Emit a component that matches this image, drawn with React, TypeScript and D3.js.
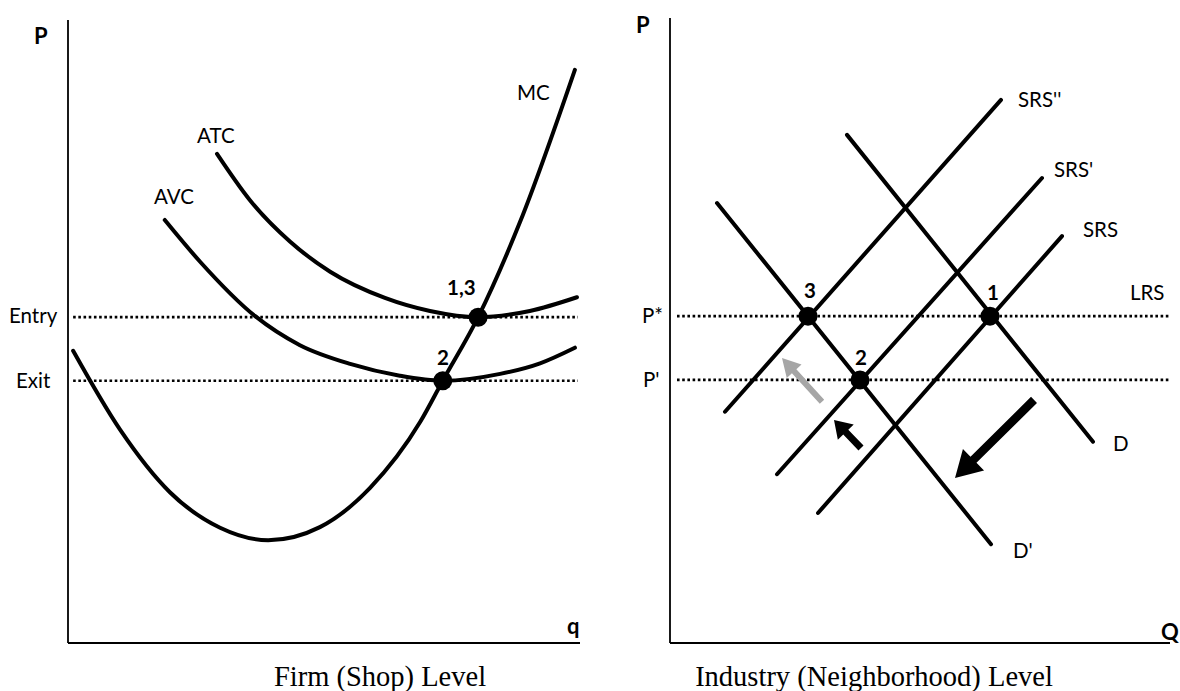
import React from "react";
import * as d3 from "d3";

// ---------- Left panel (firm) data, q and P in 0..100 units ----------
const MC_Q = [1, 10.2, 19.9, 29.7, 39.1, 49.2, 59, 68.8, 73.2, 80.1, 88.3, 99];
const MC_P = [46.9, 34.2, 24.2, 18.5, 16.5, 18.6, 24.9, 35.5, 42.1, 52.3, 67.6, 92];
const AVC_Q = [18.9, 25.8, 36.5, 45.3, 55.1, 64.8, 73.2, 84.4, 92.2, 99];
const AVC_P = [67.9, 61.2, 52.5, 47.8, 44.8, 42.9, 42.1, 43.2, 44.9, 47.4];
const ATC_Q = [29.1, 35.5, 43.4, 51.2, 61.9, 70.7, 80.1, 90.2, 99.4];
const ATC_P = [78.5, 71.1, 64.4, 59.6, 55.4, 53.3, 52.3, 53.3, 55.5];
const ENTRY_P = 52.3;
const EXIT_P = 42.1;
const FIRM_POINT_Q = [80.1, 73.2];
const FIRM_POINT_P = [52.3, 42.1];
const FIRM_POINT_LABELS = ["1,3", "2"];
const FIRM_CURVE_LABELS = ["MC", "ATC", "AVC"];

// ---------- Right panel (industry) data ----------
const IND_LINE_NAMES = ["D", "D'", "SRS''", "SRS'", "SRS"];
const IND_X1 = [35.4, 9.4, 11, 21.4, 29.6];
const IND_Y1 = [81.3, 70.4, 37, 27, 20.8];
const IND_X2 = [84.6, 64.2, 66.2, 74.4, 78.4];
const IND_Y2 = [32.2, 15.8, 86.9, 74.4, 65.1];
const P_STAR = 52.3;
const P_PRIME = 42.1;
const IND_POINT_Q = [64, 38, 27.6];
const IND_POINT_P = [52.3, 42.1, 52.3];
const IND_POINT_LABELS = ["1", "2", "3"];
// arrows: tail -> tip
const ARROW_X1 = [30.4, 38.2, 72.8];
const ARROW_Y1 = [38.6, 31.2, 38.9];
const ARROW_X2 = [22.4, 32.8, 57];
const ARROW_Y2 = [45.6, 35.7, 26.4];

const SANS = "Lato, 'Open Sans', sans-serif";
const SERIF = "'Liberation Serif', 'DejaVu Serif', serif";

function arrowPoints(x1: number, y1: number, x2: number, y2: number, sw: number, hl: number, hw: number) {
  const dx = x2 - x1, dy = y2 - y1;
  const len = Math.hypot(dx, dy);
  const ux = dx / len, uy = dy / len;
  const nx = -uy, ny = ux;
  const bx = x2 - ux * hl, by = y2 - uy * hl;
  const pts = [
    [x1 + nx * sw / 2, y1 + ny * sw / 2],
    [bx + nx * sw / 2, by + ny * sw / 2],
    [bx + nx * hw, by + ny * hw],
    [x2, y2],
    [bx - nx * hw, by - ny * hw],
    [bx - nx * sw / 2, by - ny * sw / 2],
    [x1 - nx * sw / 2, y1 - ny * sw / 2],
  ];
  return pts.map((p) => p.join(",")).join(" ");
}

export default function App() {
  // left scales
  const xL = d3.scaleLinear().domain([0, 100]).range([68, 580]);
  const yL = d3.scaleLinear().domain([0, 100]).range([643, 20]);
  // right scales
  const xR = d3.scaleLinear().domain([0, 100]).range([670, 1170]);
  const yR = d3.scaleLinear().domain([0, 100]).range([643, 18]);

  const lineL = d3
    .line<[number, number]>()
    .x((d) => xL(d[0]))
    .y((d) => yL(d[1]))
    .curve(d3.curveMonotoneX);

  const curves = [
    MC_Q.map((q, i) => [q, MC_P[i]] as [number, number]),
    ATC_Q.map((q, i) => [q, ATC_P[i]] as [number, number]),
    AVC_Q.map((q, i) => [q, AVC_P[i]] as [number, number]),
  ];

  const curveLabelPos = [
    [517, 100],
    [197, 143],
    [154, 204],
  ];
  const firmPtLabelPos = [
    [447, 295],
    [437, 365],
  ];
  const indLabelPos = [
    [1113, 451],
    [1013, 558],
    [1018, 107],
    [1054, 177],
    [1083, 237],
  ];
  const indPtLabelPos = [
    [987, 300],
    [855, 365],
    [804, 298],
  ];
  const arrowStyle = [
    { fill: "#a6a6a6", sw: 6, hl: 18, hw: 10 },
    { fill: "#000", sw: 7, hl: 17, hw: 11 },
    { fill: "#000", sw: 8.5, hl: 26, hw: 15 },
  ];

  const dotted = { stroke: "#000", strokeWidth: 2.6, strokeDasharray: "2.6 2.6" };
  const thick = { stroke: "#000", strokeWidth: 4, fill: "none", strokeLinecap: "round" as const };

  return (
    <svg
      width={1180}
      height={691}
      style={{ position: "fixed", left: 0, top: 0, background: "#fff" }}
    >
      <rect width={1180} height={691} fill="#fff" />
      {/* ---------------- Left panel ---------------- */}
      <line x1={xL(0)} y1={yL(0)} x2={xL(0)} y2={yL(100)} stroke="#000" strokeWidth={1.8} />
      <line x1={xL(0)} y1={yL(0)} x2={xL(100)} y2={yL(0)} stroke="#000" strokeWidth={1.8} />
      <line x1={xL(1)} x2={xL(99.6)} y1={yL(ENTRY_P)} y2={yL(ENTRY_P)} {...dotted} />
      <line x1={xL(1)} x2={xL(99.6)} y1={yL(EXIT_P)} y2={yL(EXIT_P)} {...dotted} />
      {curves.map((c, i) => (
        <path key={i} d={lineL(c) || ""} {...thick} />
      ))}
      {FIRM_POINT_Q.map((q, i) => (
        <circle key={i} cx={xL(q)} cy={yL(FIRM_POINT_P[i])} r={9.5} fill="#000" />
      ))}
      <g fontFamily={SANS} fontSize={20.5} fill="#000">
        {FIRM_CURVE_LABELS.map((t, i) => (
          <text key={t} x={curveLabelPos[i][0]} y={curveLabelPos[i][1]}>
            {t}
          </text>
        ))}
        <text x={9} y={323}>Entry</text>
        <text x={16} y={388}>Exit</text>
      </g>
      <g fontFamily={SANS} fontSize={20.5} fontWeight="bold" fill="#000">
        {FIRM_POINT_LABELS.map((t, i) => (
          <text key={t} x={firmPtLabelPos[i][0]} y={firmPtLabelPos[i][1]}>
            {t}
          </text>
        ))}
      </g>
      <g fontFamily={SANS} fontSize={22} fontWeight="bold" fill="#000">
        <text x={34} y={44}>P</text>
        <text x={567} y={634}>q</text>
      </g>
      <text x={380} y={686} textAnchor="middle" fontFamily={SERIF} fontSize={28.5}>
        Firm (Shop) Level
      </text>

      {/* ---------------- Right panel ---------------- */}
      <line x1={xR(0)} y1={yR(0)} x2={xR(0)} y2={yR(100)} stroke="#000" strokeWidth={1.8} />
      <line x1={xR(0)} y1={yR(0)} x2={xR(100)} y2={yR(0)} stroke="#000" strokeWidth={1.8} />
      <line x1={xR(1.4)} x2={xR(100)} y1={yR(P_STAR)} y2={yR(P_STAR)} {...dotted} />
      <line x1={xR(1.4)} x2={xR(100)} y1={yR(P_PRIME)} y2={yR(P_PRIME)} {...dotted} />
      {IND_LINE_NAMES.map((n, i) => (
        <line
          key={n}
          x1={xR(IND_X1[i])}
          y1={yR(IND_Y1[i])}
          x2={xR(IND_X2[i])}
          y2={yR(IND_Y2[i])}
          {...thick}
        />
      ))}
      {ARROW_X1.map((x, i) => (
        <polygon
          key={i}
          points={arrowPoints(
            xR(x),
            yR(ARROW_Y1[i]),
            xR(ARROW_X2[i]),
            yR(ARROW_Y2[i]),
            arrowStyle[i].sw,
            arrowStyle[i].hl,
            arrowStyle[i].hw
          )}
          fill={arrowStyle[i].fill}
        />
      ))}
      {IND_POINT_Q.map((q, i) => (
        <circle key={i} cx={xR(q)} cy={yR(IND_POINT_P[i])} r={9.5} fill="#000" />
      ))}
      <g fontFamily={SANS} fontSize={20.5} fill="#000">
        {IND_LINE_NAMES.map((t, i) => (
          <text key={t} x={indLabelPos[i][0]} y={indLabelPos[i][1]}>
            {t}
          </text>
        ))}
        <text x={1130} y={300}>LRS</text>
        <text x={642} y={323}>P*</text>
        <text x={643} y={387}>P'</text>
      </g>
      <g fontFamily={SANS} fontSize={20.5} fontWeight="bold" fill="#000">
        {IND_POINT_LABELS.map((t, i) => (
          <text key={t} x={indPtLabelPos[i][0]} y={indPtLabelPos[i][1]}>
            {t}
          </text>
        ))}
      </g>
      <g fontFamily={SANS} fontSize={22} fontWeight="bold" fill="#000">
        <text x={636} y={33}>P</text>
        <text x={1161} y={640}>Q</text>
      </g>
      <text x={874} y={686} textAnchor="middle" fontFamily={SERIF} fontSize={28.5}>
        Industry (Neighborhood) Level
      </text>
    </svg>
  );
}
